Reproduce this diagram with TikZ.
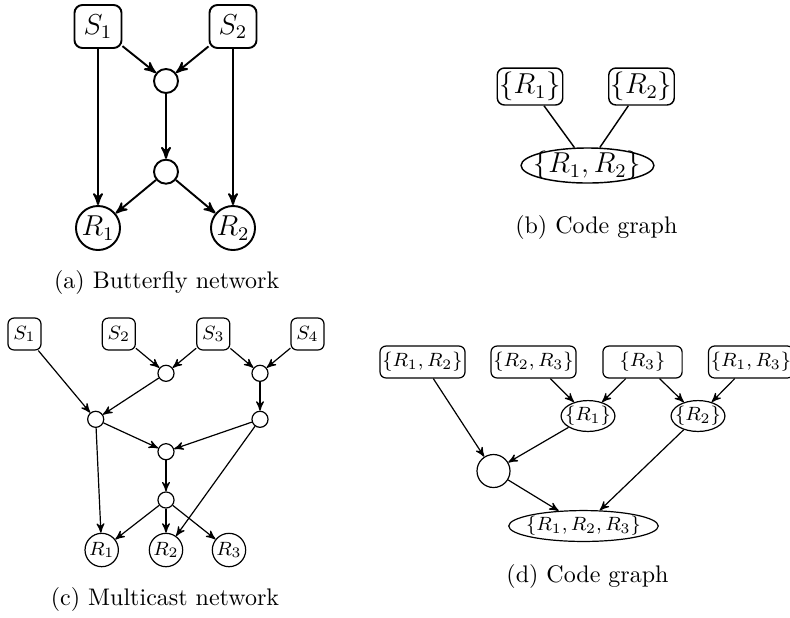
\documentclass[tikz,border=0pt]{standalone}
\usepackage{tikz}
\usetikzlibrary{positioning}
\usetikzlibrary{shapes,arrows}

\tikzset{
	% butterfly and first code graph
	srcbig/.style={draw, thick, rounded corners=3.3pt, minimum width=19.6pt, minimum height=17.9pt, inner sep=1pt, font=\large},
	relaybig/.style={draw, thick, circle, minimum size=10pt, inner sep=0pt},
	sinkbig/.style={draw, thick, circle, minimum size=18.3pt, inner sep=0.5pt, font=\large},
	setbig/.style={draw, semithick, rounded corners=3pt, inner xsep=0.8pt, inner ysep=1.7pt, font=\large},
	unionbig/.style={draw, semithick, ellipse, inner xsep=-2.75pt, inner ysep=-0.84pt, font=\large},
	% multicast and second code graph
	src/.style={draw, line width=0.5pt, rounded corners=2.5pt, minimum width=13.75pt, minimum height=13.3pt, inner sep=1pt, font=\footnotesize},
	relay/.style={draw, line width=0.5pt, circle, minimum size=6.7pt, inner sep=0pt},
	sink/.style={draw, line width=0.5pt, circle, minimum size=13.9pt, inner sep=0pt, font=\footnotesize},
	setbox/.style={draw, line width=0.5pt, rounded corners=2.5pt, minimum width=33pt, minimum height=13.3pt, inner sep=1pt, font=\footnotesize},
	union/.style={draw, line width=0.5pt, ellipse, inner xsep=-1.6pt, inner ysep=0.55pt, font=\footnotesize},
	arra/.style={draw, ->, thick},
	arrc/.style={draw, ->, line width=0.5pt},
}

\begin{document}
\begin{tikzpicture}[x=0.41667pt, y=-0.41667pt, >=stealth']
	\useasboundingbox (0,0) rectangle (790,617);

	% (a)
	\node[srcbig] (sa1) at (98,26.5) {$S_1$};
	\node[srcbig] (sa2) at (233,26.5) {$S_2$};
	\node[relaybig] (ua) at (166,81) {};
	\node[relaybig] (va) at (166,171.7) {};
	\node[sinkbig] (ra1) at (98,228) {$R_1$};
	\node[sinkbig] (ra2) at (233,228) {$R_2$};
	\node (capa) at (166.7,282) {(a) Butterfly network};

	\path [arra] (sa1) -- (ra1);
	\path [arra] (sa1) -- (ua);
	\path [arra] (sa2) -- (ua);
	\path [arra] (sa2) -- (ra2);
	\path [arra] (ua) -- (va);
	\path [arra] (va) -- (ra1);
	\path [arra] (va) -- (ra2);

	% (b)
	\node[setbig] (b1) at (530,86.5) {$\{R_1\}$};
	\node[setbig] (b2) at (641.5,86.5) {$\{R_2\}$};
	\node[unionbig] (b12) at (587.5,165.5) {$\{R_1,R_2\}$};
	\node (capb) at (596.3,227.3) {(b) Code graph};

	\path [draw, semithick] (b1) -- (b12);
	\path [draw, semithick] (b2) -- (b12);

	% (c)
	\node[src] (sc1) at (24.5,334) {$S_1$};
	\node[src] (sc2) at (118.8,334) {$S_2$};
	\node[src] (sc3) at (213.3,334) {$S_3$};
	\node[src] (sc4) at (307.5,334) {$S_4$};
	\node[relay] (uc1) at (166,373.3) {};
	\node[relay] (uc2) at (260,373.3) {};
	\node[relay] (uc3) at (95.7,419.3) {};
	\node[relay] (uc4) at (260,419.3) {};
	\node[relay] (uc5) at (166,451.7) {};
	\node[relay] (uc6) at (166,500) {};
	\node[sink] (rc1) at (101.7,550) {$R_1$};
	\node[sink] (rc2) at (166,550) {$R_2$};
	\node[sink] (rc3) at (229,550) {$R_3$};
	\node (capc) at (165,599) {(c) Multicast network};

	\path [arrc] (sc1) -- (uc3);
	\path [arrc] (sc2) -- (uc1);
	\path [arrc] (sc3) -- (uc1);
	\path [arrc] (sc3) -- (uc2);
	\path [arrc] (sc4) -- (uc2);
	\path [arrc] (uc1) -- (uc3);
	\path [arrc] (uc2) -- (uc4);
	\path [arrc] (uc3) -- (uc5);
	\path [arrc] (uc4) -- (uc5);
	\path [arrc] (uc5) -- (uc6);
	\path [arrc] (uc3) -- (rc1);
	\path [arrc] (uc6) -- (rc1);
	\path [arrc] (uc6) -- (rc2);
	\path [arrc] (uc6) -- (rc3);
	\path [arrc] (uc4) -- (rc2);

	% (d)
	\node[setbox] (d12) at (422.5,362) {$\{R_1,R_2\}$};
	\node[setbox] (d23) at (533.5,362) {$\{R_2,R_3\}$};
	\node[setbox] (d3) at (642.5,362) {$\{R_3\}$};
	\node[setbox] (d13) at (751,362) {$\{R_1,R_3\}$};
	\node[union] (d1) at (588,416) {$\{R_1\}$};
	\node[union] (d2) at (698,416) {$\{R_2\}$};
	\node[relay, minimum size=13.75pt] (dz) at (493.5,471) {};
	\node[union, inner xsep=-1.85pt] (d123) at (583.5,526) {$\{R_1,R_2,R_3\}$};
	\node (capd) at (587.5,576) {(d) Code graph};

	\path [arrc] (d12) -- (dz);
	\path [arrc] (d23) -- (d1);
	\path [arrc] (d3) -- (d1);
	\path [arrc] (d3) -- (d2);
	\path [arrc] (d13) -- (d2);
	\path [arrc] (d1) -- (dz);
	\path [arrc] (dz) -- (d123);
	\path [arrc] (d2) -- (d123);
\end{tikzpicture}
\end{document}
